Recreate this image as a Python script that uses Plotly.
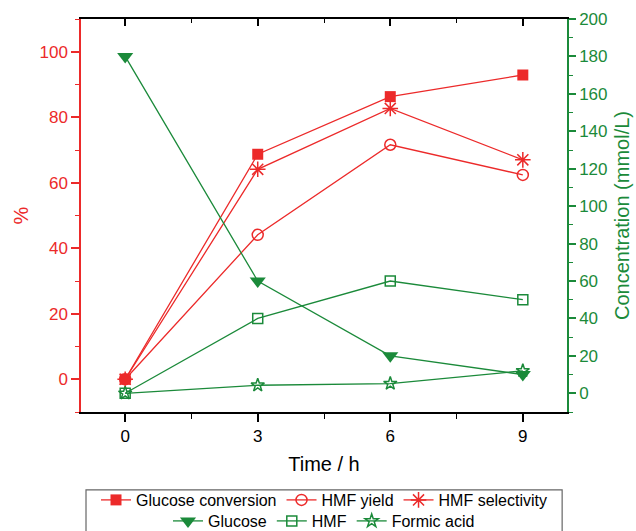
import plotly.graph_objects as go

time_h = [0, 3, 6, 9]
glucose_conversion = [0, 68.7, 86.3, 92.9]
hmf_yield = [0, 44.1, 71.6, 62.4]
hmf_selectivity = [0, 64.1, 82.7, 67.0]
glucose_conc = [180, 60, 20, 10]
hmf_conc = [0, 40, 60, 50]
formic_conc = [0, 4.3, 5.2, 12]

RED = "#EC2A2A"
GREEN = "#1B8A3A"
FONT = "Liberation Sans, Arial, sans-serif"

fig = go.Figure()

def add(name, y, color, symbol, size, yaxis, legend, lw=1.5):
    fig.add_trace(go.Scatter(
        x=time_h, y=y, name=name, mode="lines+markers",
        line=dict(color=color, width=1.3),
        marker=dict(symbol=symbol, size=size, color=color,
                    line=dict(color=color, width=lw)),
        yaxis=yaxis, legend=legend))

add("Glucose conversion", glucose_conversion, RED, "square", 11, "y", "legend", 0)
add("HMF yield", hmf_yield, RED, "circle-open", 11, "y", "legend")
add("HMF selectivity", hmf_selectivity, RED, "asterisk-open", 13, "y", "legend")
add("Glucose", glucose_conc, GREEN, "triangle-down", 14, "y2", "legend2", 0)
add("HMF", hmf_conc, GREEN, "square-open", 10, "y2", "legend2")
add("Formic acid", formic_conc, GREEN, "star-open", 10, "y2", "legend2")

# helper trace for top mirrored axis
fig.add_trace(go.Scatter(x=[None], y=[None], xaxis="x2", yaxis="y",
                         showlegend=False, hoverinfo="skip"))

fig.update_layout(
    width=636, height=531,
    margin=dict(l=81, r=69, t=19, b=119),
    paper_bgcolor="white", plot_bgcolor="white",
    font=dict(family=FONT, size=17, color="black"),
    xaxis=dict(range=[-1, 10], tickvals=time_h, ticks="outside", ticklen=8,
               tickwidth=1.5, tickcolor="black", showline=True, linecolor="black",
               linewidth=1.5, showgrid=False, zeroline=False, automargin=False,
               minor=dict(dtick=1.5, tick0=0, ticks="outside", ticklen=5,
                          tickcolor="black", tickwidth=1.2),
               title=dict(text="Time / h", font=dict(size=20), standoff=12),
               tickfont=dict(size=17)),
    xaxis2=dict(range=[-1, 10], overlaying="x", side="top", anchor="y",
                tickvals=time_h, ticks="inside", ticklen=7, tickwidth=1.5,
                tickcolor="black", showline=True, linecolor="black", linewidth=1.5,
                showticklabels=False, showgrid=False, zeroline=False, automargin=False,
                minor=dict(dtick=1.5, tick0=0, ticks="inside", ticklen=4,
                           tickcolor="black", tickwidth=1.2)),
    yaxis=dict(range=[-10, 110], dtick=20, tick0=0, ticks="outside", ticklen=8,
               tickwidth=1.5, tickcolor=RED, showline=True, linecolor=RED,
               linewidth=1.5, showgrid=False, zeroline=False, automargin=False,
               tickfont=dict(color=RED, size=17),
               minor=dict(dtick=10, tick0=0, ticks="outside", ticklen=4,
                          tickcolor=RED, tickwidth=1.2),
               title=dict(text="%", font=dict(color=RED, size=20), standoff=5)),
    yaxis2=dict(range=[-10, 200], dtick=20, tick0=0, overlaying="y", side="right",
                anchor="x", ticks="outside", ticklen=7, tickwidth=1.5,
                tickcolor=GREEN, showline=True, linecolor=GREEN, linewidth=1.5,
                showgrid=False, zeroline=False, automargin=False,
                tickfont=dict(color=GREEN, size=17),
                minor=dict(dtick=10, tick0=0, ticks="outside", ticklen=4,
                           tickcolor=GREEN, tickwidth=1.2),
                title=dict(text="Concentration (mmol/L)",
                           font=dict(color=GREEN, size=20), standoff=8)),
    legend=dict(orientation="h", x=0.5, xanchor="center", xref="paper",
                y=1 - 500 / 531, yanchor="middle", yref="container",
                bgcolor="rgba(0,0,0,0)", font=dict(size=16), itemwidth=30,
                tracegroupgap=0),
    legend2=dict(orientation="h", x=0.5, xanchor="center", xref="paper",
                 y=1 - 521 / 531, yanchor="middle", yref="container",
                 bgcolor="rgba(0,0,0,0)", font=dict(size=16), itemwidth=30,
                 tracegroupgap=0),
    shapes=[dict(type="rect", xref="paper", yref="paper",
                 x0=0.0103, x1=0.99, y0=-0.33, y1=-0.198,
                 line=dict(color="#666666", width=1.2), fillcolor="rgba(0,0,0,0)",
                 layer="above")],
    showlegend=True,
)

fig.write_html("out.html", config={"displayModeBar": False},
               post_script="document.body.style.margin='0';")
